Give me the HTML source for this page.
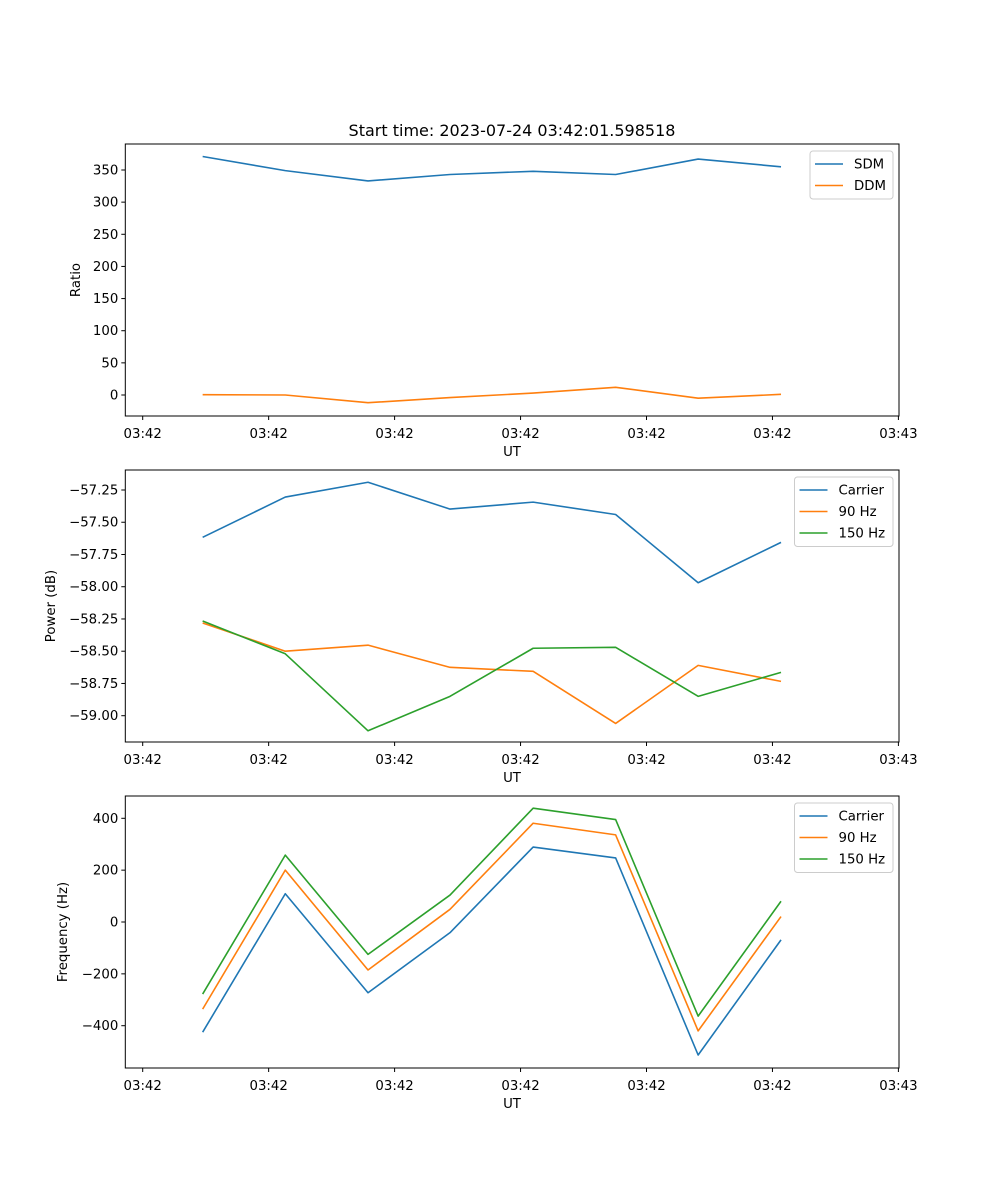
<!DOCTYPE html>
<html><head><meta charset="utf-8"><style>
body{margin:0;background:#fff}
svg{display:block;font-family:"DejaVu Sans","Liberation Sans",sans-serif}
</style></head><body>
<svg id="fig" width="1000" height="1200" xmlns="http://www.w3.org/2000/svg">
<rect width="1000" height="1200" fill="#fff"/>
<text x="512" y="136" font-size="16" text-anchor="middle">Start time: 2023-07-24 03:42:01.598518</text>
</svg>
<script>
const times=[0.476,1.132,1.789,2.44,3.10,3.755,4.41,5.068];
const xTickLabels=["03:42","03:42","03:42","03:42","03:42","03:42","03:43"];
const sdm=[371,349,333,343,348,343,367,355];
const ddm=[0.5,0,-12,-4,3,12,-5,1];
const powCarrier=[-57.617,-57.305,-57.19,-57.398,-57.344,-57.44,-57.969,-57.656];
const pow90=[-58.281,-58.5,-58.453,-58.625,-58.656,-59.06,-58.61,-58.734];
const pow150=[-58.266,-58.52,-59.117,-58.85,-58.477,-58.47,-58.85,-58.664];
const freqCarrier=[-425,109,-273,-41,289,247,-513,-69];
const freq90=[-336,200,-185,49,381,336,-420,21];
const freq150=[-278,258,-125,104,439,395,-363,80];
const ratioTicks=[0,50,100,150,200,250,300,350];
const powTicks=[-57.25,-57.5,-57.75,-58,-58.25,-58.5,-58.75,-59];
const freqTicks=[-400,-200,0,200,400];

const NS="http://www.w3.org/2000/svg";
const svg=document.getElementById('fig');
function el(t,a,p){const e=document.createElementNS(NS,t);for(const k in a)e.setAttribute(k,a[k]);(p||svg).appendChild(e);return e;}
const L=125.3,R=899;
const xs=t=>142.7+t*125.95;
const C={b:'#1f77b4',o:'#ff7f0e',g:'#2ca02c'};

function panel(cfg){
  const g=el('g',{});
  
  
  const ys=v=>cfg.y0px+(v-cfg.v0)*(cfg.y1px-cfg.y0px)/(cfg.v1-cfg.v0);
  cfg.series.forEach(s=>{
    const p=el('polyline',{points:s.data.map((v,i)=>xs(times[i]).toFixed(2)+','+ys(v).toFixed(2)).join(' '),fill:'none',stroke:s.c,'stroke-width':1.6,'stroke-linejoin':'round'},g);
    
    
  });
  const fr=el('rect',{x:L,y:cfg.top,width:R-L,height:cfg.bot-cfg.top,fill:'none',stroke:'#000','stroke-width':1},g);
  
  
  xTickLabels.forEach((lab,i)=>{
    const x=xs(i);
    el('line',{x1:x,x2:x,y1:cfg.bot,y2:cfg.bot+4,stroke:'#000'},g);
    const t=el('text',{x:x,y:cfg.bot+22,'font-size':13.3,'text-anchor':'middle'},g);
    t.textContent=lab;
    
    
  });
  cfg.ticks.forEach(v=>{
    const y=ys(v);
    el('line',{x1:L-4,x2:L,y1:y,y2:y,stroke:'#000'},g);
    const t=el('text',{x:L-7,y:y+4.5,'font-size':13.3,'text-anchor':'end'},g);
    t.textContent=cfg.fmt(v);
    
    
  });
  const xl=el('text',{x:512,y:cfg.bot+40,'font-size':13.3,'text-anchor':'middle'},g);
  xl.textContent='UT';
  
  
  const ymid=(cfg.top+cfg.bot)/2;
  const yl=el('text',{x:cfg.ylx,y:ymid,'font-size':13.3,'text-anchor':'middle',transform:`rotate(-90 ${cfg.ylx} ${ymid})`},g);
  yl.textContent=cfg.ylabel;
  
  
  const lg=el('g',{},g);
  
  
  const lx=cfg.legX,ly=cfg.top+7,lh=21.5*cfg.series.length+5;
  el('rect',{x:lx,y:ly,width:R-6-lx,height:lh,rx:3,fill:'#fff',stroke:'#ccc'},lg);
  cfg.series.forEach((s,i)=>{
    const yy=ly+13+i*21.5;
    el('line',{x1:lx+5,x2:lx+33,y1:yy,y2:yy,stroke:s.c,'stroke-width':1.6},lg);
    const t=el('text',{x:lx+44,y:yy+4.5,'font-size':13.3},lg);
    t.textContent=s.label;
    
    
  });
}
panel({name:'ratio-panel',top:144,bot:416,v0:0,y0px:395,v1:350,y1px:170,ticks:ratioTicks,fmt:v=>String(v),ylabel:'Ratio',ylx:80,legX:810,
  series:[{id:'sdm',label:'SDM',data:sdm,c:C.b},{id:'ddm',label:'DDM',data:ddm,c:C.o}]});
panel({name:'power-panel',top:470,bot:742,v0:-57.25,y0px:490,v1:-59,y1px:715.7,ticks:powTicks,fmt:v=>'\u2212'+Math.abs(v).toFixed(2),ylabel:'Power (dB)',ylx:55,legX:794.5,
  series:[{id:'power-carrier',label:'Carrier',data:powCarrier,c:C.b},{id:'power-90hz',label:'90 Hz',data:pow90,c:C.o},{id:'power-150hz',label:'150 Hz',data:pow150,c:C.g}]});
panel({name:'frequency-panel',top:796,bot:1068,v0:0,y0px:922,v1:400,y1px:818.3,ticks:freqTicks,fmt:v=>(v<0?'\u2212':'')+Math.abs(v),ylabel:'Frequency (Hz)',ylx:67,legX:794.5,
  series:[{id:'freq-carrier',label:'Carrier',data:freqCarrier,c:C.b},{id:'freq-90hz',label:'90 Hz',data:freq90,c:C.o},{id:'freq-150hz',label:'150 Hz',data:freq150,c:C.g}]});
</script>
</body></html>
